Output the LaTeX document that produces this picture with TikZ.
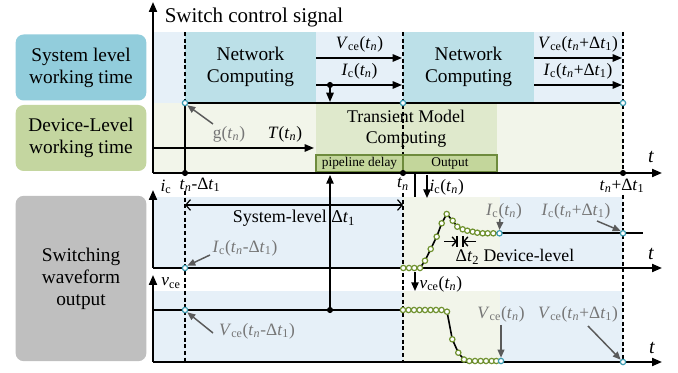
\documentclass[tikz,border=0pt]{standalone}
\usepackage{fontspec}
\setmainfont{Liberation Serif}
\usetikzlibrary{arrows.meta}

\definecolor{sysbox}{RGB}{146,205,220}
\definecolor{devbox}{RGB}{196,214,160}
\definecolor{wavebox}{RGB}{191,191,191}
\definecolor{bgblue}{RGB}{230,240,248}
\definecolor{netblue}{RGB}{188,224,232}
\definecolor{bggreen}{RGB}{242,245,234}
\definecolor{tmgreen}{RGB}{223,233,204}
\definecolor{pipegreen}{RGB}{195,214,155}
\definecolor{pipeedge}{RGB}{110,139,61}
\definecolor{ptgreen}{RGB}{112,146,48}
\definecolor{ptblue}{RGB}{60,155,176}
\definecolor{labelgray}{RGB}{118,118,118}
\definecolor{arrowgray}{RGB}{90,90,90}

% text helpers
\newcommand\ti{\textit{t}}
\newcommand\tn{\textit{t}\textsubscript{\textit{n}}}
\newcommand\dtone{Δ\textit{t}\textsubscript{1}}
\newcommand\Vce{\textit{V}\textsubscript{ce}}
\newcommand\Ic{\textit{I}\textsubscript{c}}
\newcommand\icc{\textit{i}\textsubscript{c}}
\newcommand\vce{\textit{v}\textsubscript{ce}}

\tikzset{
  axisline/.style={line width=1.5pt},
  axisarrow/.style={line width=1.5pt,-{Triangle[length=7.5pt,width=6pt]}},
  sigarrow/.style={line width=1.3pt,-{Triangle[length=7pt,width=5.5pt]}},
  guide/.style={line width=0.8pt,dash pattern=on 3pt off 2pt},
  lblbox/.style={rounded corners=6pt,minimum width=98pt,inner sep=0pt,align=center,
    font=\fontsize{14.5}{16.5}\selectfont},
  mathlbl/.style={font=\fontsize{13}{15}\selectfont,inner sep=1pt},
  graylbl/.style={mathlbl,text=labelgray},
  grayarrow/.style={draw=arrowgray,line width=1.1pt,-{Triangle[length=6pt,width=5pt]}},
  wave/.style={line width=1.2pt},
  gpt/.style={circle,draw=ptgreen,fill=white,line width=0.9pt,minimum size=4pt,inner sep=0pt},
  bpt/.style={circle,draw=ptblue,fill=white,line width=0.9pt,minimum size=4pt,inner sep=0pt},
  bdot/.style={circle,fill=black,minimum size=4.6pt,inner sep=0pt},
  pipebox/.style={draw=pipeedge,fill=pipegreen,line width=0.8pt,minimum height=12.75pt,
    inner sep=0pt,font=\fontsize{10}{12}\selectfont},
}

\begin{document}
\begin{tikzpicture}[x=0.75pt,y=-0.75pt]
\useasboundingbox (0,0) rectangle (678,373);

% ---------- background bands ----------
\fill[bgblue] (153,32) rectangle (623,103);
\fill[netblue] (185,32) rectangle (316,103);
\fill[netblue] (403,32) rectangle (534,103);
\fill[bggreen] (153,103) rectangle (623,173);
\fill[tmgreen] (316,103) rectangle (497,155);
\fill[bgblue] (153,197) rectangle (623,268);
\fill[bgblue] (153,291) rectangle (623,362);
\fill[bggreen] (403,197) rectangle (500,268);
\fill[bggreen] (403,291) rectangle (500,362);

% ---------- row labels ----------
\node[lblbox,fill=sysbox,minimum height=49.5pt] (sys) at (81,67.5) {System level\\working time};
\node[lblbox,fill=devbox,minimum height=49.5pt] (dev) at (81,138) {Device-Level\\working time};
\node[lblbox,fill=wavebox,minimum height=124pt] (wave) at (81,278.5) {Switching\\waveform\\output};

% ---------- key coordinates ----------
\coordinate (O1) at (153,173);
\coordinate (Y1) at (153,2);
\coordinate (X1) at (662,173);
\coordinate (O2) at (153,268);
\coordinate (Y2) at (153,190);
\coordinate (X2) at (662,268);
\coordinate (O3) at (153,362);
\coordinate (Y3) at (153,275);
\coordinate (X3) at (662,362);

\coordinate (a0) at (185,32);  \coordinate (a1) at (185,103); \coordinate (a2) at (185,173);
\coordinate (a3) at (185,191); \coordinate (a4) at (185,362);
\coordinate (b0) at (403,32);  \coordinate (b1) at (403,103); \coordinate (b2) at (403,173);
\coordinate (b3) at (403,193); \coordinate (b4) at (403,362);
\coordinate (c0) at (623,32);  \coordinate (c1) at (623,103); \coordinate (c2) at (623,173);
\coordinate (c3) at (623,195); \coordinate (c4) at (623,362);

% ---------- guides ----------
\draw[guide] (a0) -- (a1);
\draw[guide] (a3) -- (a4);
\draw[guide] (b0) -- (b2);
\draw[guide] (b3) -- (b4);
\draw[guide] (c0) -- (c2);
\draw[guide] (c3) -- (c4);

% ---------- Transient model block ----------
\node[font=\fontsize{13.4}{15.8}\selectfont,align=center] (tm) at (406,129) {Transient Model\\Computing};
\node[pipebox,minimum width=65.25pt] (pipe) at (359.5,163.5) {pipeline delay};
\node[pipebox,minimum width=70.5pt] (outp) at (450,163.5) {Output};

% ---------- network computing ----------
\node[font=\fontsize{14.5}{16.5}\selectfont,align=center] (nc1) at (250.5,67) {Network\\Computing};
\node[font=\fontsize{14.5}{16.5}\selectfont,align=center] (nc2) at (468.5,67) {Network\\Computing};

% ---------- axes ----------
\draw[axisarrow] (O1) -- (Y1);
\draw[axisarrow] (O1) -- (X1);
\draw[axisarrow] (O2) -- (Y2);
\draw[axisarrow] (O2) -- (X2);
\draw[axisarrow] (O3) -- (Y3);
\draw[axisarrow] (O3) -- (X3);
\draw[axisline] (a1) -- (c1);
\draw[axisline] (a1) -- (a2);

\node[font=\fontsize{15.75}{18}\selectfont] (title) at (254,17) {Switch control signal};
\node[mathlbl,font=\fontsize{15}{17}\selectfont] (t1) at (651,157) {\ti};
\node[mathlbl,font=\fontsize{15}{17}\selectfont] (t2) at (651,254) {\ti};
\node[mathlbl,font=\fontsize{15}{17}\selectfont] (t3) at (652,348) {\ti};

% ---------- signal arrows, system level ----------
\coordinate (v1s) at (316,58);  \coordinate (v1e) at (402,58);
\coordinate (i1s) at (316,85);  \coordinate (i1e) at (402,85);
\coordinate (v2s) at (534,58);  \coordinate (v2e) at (622,58);
\coordinate (i2s) at (534,85);  \coordinate (i2e) at (622,85);
\coordinate (tap) at (330,85);  \coordinate (tapend) at (330,102);
\draw[sigarrow] (v1s) -- (v1e);
\draw[sigarrow] (i1s) -- (i1e);
\draw[sigarrow] (v2s) -- (v2e);
\draw[sigarrow] (i2s) -- (i2e);
\draw[sigarrow] (tap) -- (tapend);
\node[bdot] (tapdot) at (tap) {};
\node[mathlbl] (lv1) at (359.5,44) {\Vce(\tn)};
\node[mathlbl] (li1) at (359.5,71) {\Ic(\tn)};
\node[mathlbl] (lv2) at (578,44) {\Vce(\tn+\dtone)};
\node[mathlbl] (li2) at (578,71) {\Ic(\tn+\dtone)};

% ---------- device level arrows ----------
\coordinate (Ts) at (153,148); \coordinate (Te) at (314,148);
\draw[sigarrow] (Ts) -- (Te);
\node[mathlbl] (Tl) at (285,134) {\textit{T}(\tn)};
\node[graylbl] (gl) at (229,134) {g(\tn)};

% ---------- axis time marks ----------
\node[bdot] (d1) at (a2) {};
\node[bdot] (d2) at (b2) {};
\node[bdot] (d3) at (c2) {};
\node[bpt] (s1) at (a1) {};
\node[bpt] (s2) at (b1) {};
\node[bpt] (s3) at (c1) {};
\coordinate (gs) at (213,124);
\draw[grayarrow] (gs) -- (s1.south east);

\node[mathlbl] (icl) at (166,187) {\icc};
\node[mathlbl] (tml) at (200,185) {\tn-\dtone};
\node[mathlbl] (tnl) at (403,184) {\tn};
\node[mathlbl] (tpl) at (622,186) {\tn+\dtone};
\node[mathlbl] (vcl) at (171,283) {\vce};

% feedback from the v_ce trace to the pipeline
\coordinate (fb0) at (330,310); \coordinate (fb1) at (330,175);
\draw[line width=1.1pt,-{Triangle[length=6.5pt,width=5.5pt]}] (fb0) -- (fb1);

% i_c(t_n) and v_ce(t_n) hand-over
\coordinate (sep0) at (415,174); \coordinate (sep1) at (415,197);
\draw[line width=0.8pt] (sep0) -- (sep1);
\coordinate (ia0) at (427,175); \coordinate (ia1) at (427,198);
\draw[line width=1.1pt,-{Triangle[length=6.5pt,width=5.5pt]}] (ia0) -- (ia1);
\node[mathlbl,anchor=west] (ial) at (428,187) {\icc(\tn)};
\coordinate (va0) at (415,272); \coordinate (va1) at (415,291);
\draw[line width=1.1pt,-{Triangle[length=6.5pt,width=5.5pt]}] (va0) -- (va1);
\node[mathlbl,anchor=west] (val) at (418,284) {\vce(\tn)};

% ---------- system-level interval ----------
\coordinate (sl0) at (185,205); \coordinate (sl1) at (403,205);
\draw[line width=0.9pt,{Straight Barb[length=3.5pt,width=8pt]}-{Straight Barb[length=3.5pt,width=8pt]}] (sl0) -- (sl1);
\node[mathlbl,font=\fontsize{13.5}{15}\selectfont] (sll) at (294,218) {System-level \dtone};

% ---------- v_ce trace ----------
\coordinate (vl0) at (153,310);
\coordinate (vl1) at (403,310);
\draw[wave] (vl0) -- (vl1);
\node[bdot] (fbdot) at (fb0) {};

\foreach \x/\y [count=\i] in {403/310,408.5/310,414/310,419.5/310,425/310,430.5/310,436/310,441.5/310,
  447/311.7,452.3/339.3,458.3/352.7,464/359.5,469.3/361,475/361,480.7/361,486/361,491.7/361,496.3/361}
  \coordinate (vp\i) at (\x,\y);
\draw[wave] (vp9) -- (vp10) -- (vp11) -- (vp12) -- (vp13);
\foreach \i in {1,...,18} \node[gpt] (vn\i) at (vp\i) {};
\node[bpt] (vend) at (501,361) {};
\node[bpt] (vfar) at (c4) {};
\node[bpt] (vold) at (185,310) {};

% ---------- i_c trace ----------
\foreach \x/\y [count=\i] in {403.3/268,409/268,414.3/268,420/268,425/260.7,430.7/249,436.7/236.7,
  441.7/223.3,446.7/214,452.7/220.7,457.3/226.7,462.7/229.3,467.3/230.7,472.7/231.7,477.3/232.7,
  482.7/233.3,487.7/233.3,493.3/233.3}
  \coordinate (ip\i) at (\x,\y);
\coordinate (iend) at (499.5,233.3);
\coordinate (itail) at (643,233.3);
\draw[wave] (ip4) foreach \i in {5,...,18} { -- (ip\i)} -- (iend);
\draw[wave] (iend) -- (itail);
\foreach \i in {1,...,18} \node[gpt] (in\i) at (ip\i) {};
\node[bpt] (iendn) at (iend) {};
\node[bpt] (ifar) at (623,233.3) {};
\node[bpt] (iold) at (185,268) {};

% ---------- device-level step ----------
\coordinate (k0) at (457,236); \coordinate (k1) at (457,247);
\coordinate (k2) at (463,236); \coordinate (k3) at (463,247);
\draw[line width=1pt] (k0) -- (k1);
\draw[line width=1pt] (k2) -- (k3);
\coordinate (ka) at (444,241.5); \coordinate (kb) at (476,241.5);
\coordinate (kc) at (457,241.5); \coordinate (kd) at (463,241.5);
\draw[line width=1pt,-{Straight Barb[length=3pt,width=7pt]}] (ka) -- (kc);
\draw[line width=1pt,-{Straight Barb[length=3pt,width=7pt]}] (kb) -- (kd);
\node[mathlbl,font=\fontsize{13.3}{15}\selectfont,anchor=west] (dl) at (454,257) {Δ\textit{t}\textsubscript{2} Device-level};

% ---------- grey value annotations ----------
\node[graylbl] (g1) at (504,211) {\Ic(\tn)};
\coordinate (g1a) at (500,219);
\draw[grayarrow] (g1a) -- (iendn.north);
\node[graylbl] (g2) at (576,211) {\Ic(\tn+\dtone)};
\coordinate (g2a) at (597,221);
\draw[grayarrow] (g2a) -- (ifar.north west);
\node[graylbl] (g3) at (501,314) {\Vce(\tn)};
\coordinate (g3a) at (501,325);
\draw[grayarrow] (g3a) -- (vend.north);
\node[graylbl] (g4) at (578,314) {\Vce(\tn+\dtone)};
\coordinate (g4a) at (588,326);
\draw[grayarrow] (g4a) -- (vfar.north west);
\node[graylbl] (g5) at (245,248) {\Ic(\tn-\dtone)};
\coordinate (g5a) at (210,255);
\draw[grayarrow] (g5a) -- (iold.north east);
\node[graylbl] (g6) at (257,331) {\Vce(\tn-\dtone)};
\coordinate (g6a) at (213,333);
\draw[grayarrow] (g6a) -- (vold.south east);
\end{tikzpicture}
\end{document}
